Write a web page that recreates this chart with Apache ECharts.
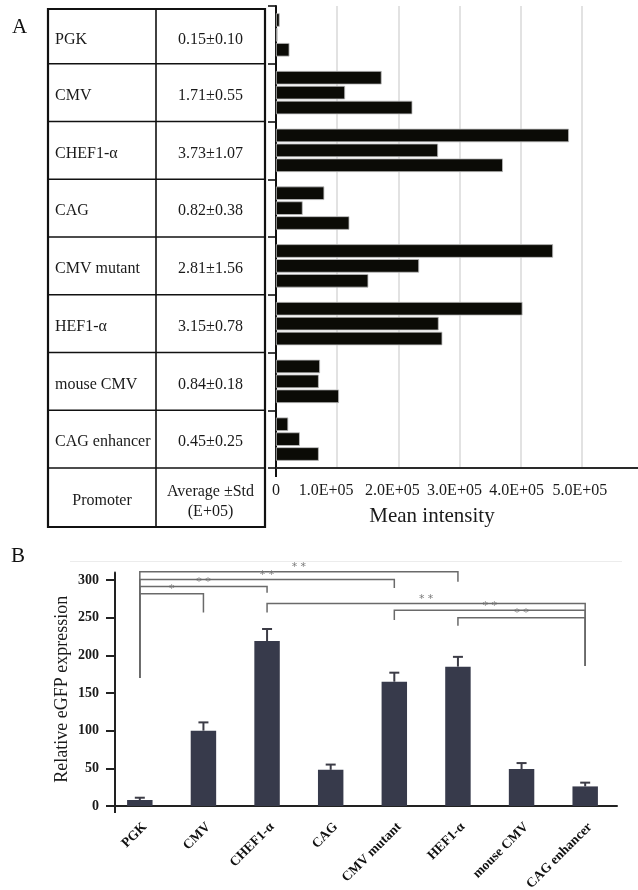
<!DOCTYPE html>
<html><head><meta charset="utf-8">
<script src="https://cdn.jsdelivr.net/npm/echarts@6/dist/echarts.min.js"></script>
<style>html,body{margin:0;padding:0;background:#fff}#c{width:638px;height:890px}</style>
</head><body><div id="c"></div>
<script>
// ---------- Panel A data ----------
const promoters = ['PGK','CMV','CHEF1-α','CAG','CMV mutant','HEF1-α','mouse CMV','CAG enhancer'];
const avgMean = [0.15,1.71,3.73,0.82,2.81,3.15,0.84,0.45];
const avgStd  = [0.10,0.55,1.07,0.38,1.56,0.78,0.18,0.25];
const rep1 = [6000,172700,479000,79000,453000,403000,72000,20000];
const rep2 = [2500,113000,265000,43600,234000,266000,70000,39000];
const rep3 = [22000,223000,371000,120000,151000,272000,103000,70000];
const xTicksA = [0,100000,200000,300000,400000,500000];
const headerCol1 = 'Promoter';
const headerCol2 = ['Average ±Std','(E+05)'];
const xNameA = 'Mean intensity';
// ---------- Panel B data ----------
const relExpr = [8,100,219,48,165,185,49,26];
const relErr  = [3,11,16,7,12,13,8,5];
const yTicksB = [0,50,100,150,200,250,300];
const yNameB = 'Relative eGFP expression';
const bracketFrom    = [0,0,0,0,2,4,5];
const bracketTo      = [5,4,2,1,7,7,7];
const bracketLevel   = [311,300.7,291.4,281.8,268.8,259.8,250];
const bracketFromEnd = [170,170,170,170,257,247,239.3];
const bracketToEnd   = [297.6,289.4,283,257,186,186,186];
const bracketLabel   = ['* *','* *','* *','*','* *','* *','* *'];

const SERIF = 'Liberation Serif, Times New Roman, serif';

// ---------- layout ----------
const gA = {left:276, top:6, width:367, height:462};
const gB = {left:108, top:572.5, width:509, height:233.5};
const rowH = gA.height / promoters.length;
const tL = 48, tC = 156, tR = 265, tTop = 9, tBottom = 527;

const elems = [];
elems.push({type:'rect', shape:{x:tL,y:tTop,width:tR-tL,height:tBottom-tTop}, style:{fill:'none',stroke:'#111',lineWidth:2.2}, z:10});
elems.push({type:'line', shape:{x1:tC,y1:tTop,x2:tC,y2:tBottom}, style:{stroke:'#111',lineWidth:1.6}, z:10});
for (let i=1;i<=promoters.length;i++){
  const y = gA.top + i*rowH;
  elems.push({type:'line', shape:{x1:tL,y1:y,x2:tR,y2:y}, style:{stroke:'#111',lineWidth:1.6}, z:10});
}
promoters.forEach((p,i)=>{
  const y0 = i===0 ? tTop : gA.top + i*rowH;
  const y1 = gA.top + (i+1)*rowH;
  const yc = (y0+y1)/2 + 3;
  elems.push({type:'text', x:55, y:yc, style:{text:p, font:'16px '+SERIF, fill:'#1a1a1a', align:'left', verticalAlign:'middle'}, z:10});
  elems.push({type:'text', x:(tC+tR)/2, y:yc, style:{text:avgMean[i].toFixed(2)+'±'+avgStd[i].toFixed(2), font:'16px '+SERIF, fill:'#1a1a1a', align:'center', verticalAlign:'middle'}, z:10});
});
const hy0 = gA.top + gA.height;
elems.push({type:'text', x:(tL+tC)/2, y:(hy0+tBottom)/2+3, style:{text:headerCol1, font:'16px '+SERIF, fill:'#1a1a1a', align:'center', verticalAlign:'middle'}, z:10});
elems.push({type:'text', x:(tC+tR)/2, y:(hy0+tBottom)/2-6, style:{text:headerCol2[0], font:'16px '+SERIF, fill:'#1a1a1a', align:'center', verticalAlign:'middle'}, z:10});
elems.push({type:'text', x:(tC+tR)/2, y:(hy0+tBottom)/2+14, style:{text:headerCol2[1], font:'16px '+SERIF, fill:'#1a1a1a', align:'center', verticalAlign:'middle'}, z:10});
elems.push({type:'text', x:432, y:516, style:{text:xNameA, font:'21px '+SERIF, fill:'#1a1a1a', align:'center', verticalAlign:'middle'}});
elems.push({type:'text', x:12, y:27, style:{text:'A', font:'21px '+SERIF, fill:'#111', align:'left', verticalAlign:'middle'}});
elems.push({type:'text', x:11, y:556, style:{text:'B', font:'21px '+SERIF, fill:'#111', align:'left', verticalAlign:'middle'}});
// small axis extensions
elems.push({type:'line', shape:{x1:gA.left,y1:hy0,x2:gA.left,y2:hy0+9}, style:{stroke:'#111',lineWidth:2}});
elems.push({type:'line', shape:{x1:115,y1:gB.top+gB.height,x2:115,y2:gB.top+gB.height+7}, style:{stroke:'#222',lineWidth:2}});
// faint panel border line
elems.push({type:'line', shape:{x1:70,y1:561.5,x2:622,y2:561.5}, style:{stroke:'#ececec',lineWidth:1}});

const labelShift = {100000:22, 200000:12, 300000:10, 400000:8, 500000:4};
const richA = {};
Object.keys(labelShift).forEach(k=>{ richA['s'+k] = {padding:[0,labelShift[k],0,0], fontSize:16, fontFamily:SERIF, color:'#1a1a1a'}; });

const chart = echarts.init(document.getElementById('c'), null, {renderer:'canvas'});
chart.setOption({
  animation:false,
  backgroundColor:'#fff',
  grid:[
    Object.assign({containLabel:false, outerBoundsMode:'none'}, gA),
    Object.assign({containLabel:false, outerBoundsMode:'none'}, gB)
  ],
  xAxis:[
    {gridIndex:0, type:'value', min:0, max:600000, interval:100000,
     axisLine:{show:true, lineStyle:{color:'#2a2a2a', width:2}},
     axisTick:{show:false},
     splitLine:{show:true, lineStyle:{color:'#d9d9d9', width:1.5}},
     axisLabel:{margin:15, fontSize:16, fontFamily:SERIF, color:'#1a1a1a',
       formatter:v=> v===0 ? '0' : (xTicksA.indexOf(v)>=0 ? '{s'+v+'|'+(v/100000).toFixed(1)+'E+05}' : ''),
       rich:richA}
    },
    {gridIndex:1, type:'category', data:promoters,
     axisLine:{show:true, onZero:true, lineStyle:{color:'#222', width:2}},
     axisTick:{show:false},
     axisLabel:{rotate:45, margin:14, verticalAlign:'top', interval:0, fontSize:13.5, fontWeight:'bold', fontFamily:SERIF, color:'#111'}
    }
  ],
  yAxis:[
    {gridIndex:0, type:'category', data:promoters, inverse:true,
     axisLine:{show:true, lineStyle:{color:'#111', width:2}},
     axisTick:{show:true, length:8, lineStyle:{color:'#111', width:1.6}},
     axisLabel:{show:false}, splitLine:{show:false}
    },
    {gridIndex:1, type:'value', min:0, max:310, offset:-7,
     axisLine:{show:true, lineStyle:{color:'#222', width:2}},
     axisTick:{show:true, length:9, customValues:yTicksB, lineStyle:{color:'#222', width:2}},
     axisLabel:{margin:16, customValues:yTicksB, fontSize:14, fontWeight:'bold', fontFamily:SERIF, color:'#1a1a1a'},
     splitLine:{show:false},
     name:yNameB, nameLocation:'middle', nameGap:44, nameMoveOverlap:false,
     nameTextStyle:{fontSize:18, fontFamily:SERIF, color:'#1a1a1a'}
    }
  ],
  series:[
    {type:'bar', xAxisIndex:0, yAxisIndex:0, data:rep1, barCategoryGap:'25%', barGap:'10%',
     itemStyle:{color:'#0b0b06', borderColor:'#bdbdbd', borderWidth:0.8}},
    {type:'bar', xAxisIndex:0, yAxisIndex:0, data:rep2, barCategoryGap:'25%', barGap:'10%',
     itemStyle:{color:'#0b0b06', borderColor:'#bdbdbd', borderWidth:0.8}},
    {type:'bar', xAxisIndex:0, yAxisIndex:0, data:rep3, barCategoryGap:'25%', barGap:'10%',
     itemStyle:{color:'#0b0b06', borderColor:'#bdbdbd', borderWidth:0.8}},
    {type:'bar', xAxisIndex:1, yAxisIndex:1, data:relExpr, barWidth:'40%',
     itemStyle:{color:'#373a4b'}},
    {type:'custom', xAxisIndex:1, yAxisIndex:1, clip:false,
     data: relExpr.map((v,i)=>[i, v, relErr[i]]),
     encode:{x:0, y:1},
     renderItem:(params, api)=>{
       const x = api.value(0), v = api.value(1), e = api.value(2);
       const b = api.coord([x, v]), t = api.coord([x, v+e]);
       return {type:'group', children:[
         {type:'line', shape:{x1:b[0],y1:b[1],x2:t[0],y2:t[1]}, style:{stroke:'#3c3c46',lineWidth:2}},
         {type:'line', shape:{x1:t[0]-5,y1:t[1],x2:t[0]+5,y2:t[1]}, style:{stroke:'#3c3c46',lineWidth:2}}
       ]};
     }
    },
    {type:'custom', xAxisIndex:1, yAxisIndex:1, clip:false,
     data: bracketFrom.map((f,i)=>[f, bracketLevel[i], bracketTo[i], bracketFromEnd[i], bracketToEnd[i]]),
     encode:{x:0, y:1},
     renderItem:(params, api)=>{
       const f = api.value(0), lv = api.value(1), t = api.value(2), fe = api.value(3), te = api.value(4);
       const p1 = api.coord([f, fe]), p2 = api.coord([f, lv]), p3 = api.coord([t, lv]), p4 = api.coord([t, te]);
       const lbl = bracketLabel[params.dataIndex];
       return {type:'group', children:[
         {type:'polyline', shape:{points:[p1,p2,p3,p4]}, style:{stroke:'#6a6a6a', lineWidth:1.5, fill:'none'}},
         {type:'text', x:(p2[0]+p3[0])/2, y:p2[1]+1, style:{text:lbl, font:'11px DejaVu Sans', fill:'#7a7a7a', align:'center', verticalAlign:'bottom'}}
       ]};
     }
    }
  ],
  graphic: elems
});
</script></body></html>
